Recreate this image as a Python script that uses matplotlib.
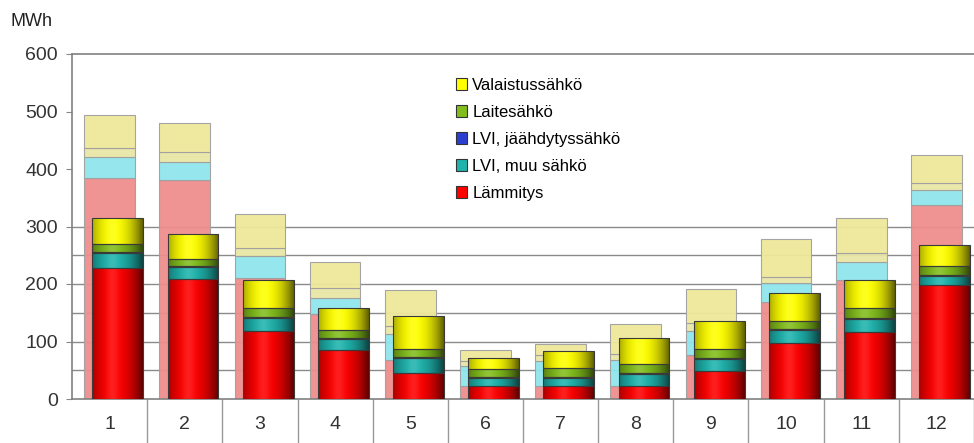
import numpy as np
import matplotlib.pyplot as plt
from matplotlib.patches import Patch
from matplotlib.colors import to_rgb

plt.rcParams['font.family'] = ['Liberation Sans', 'DejaVu Sans']

months = [str(m) for m in range(1, 13)]

# etummaiset (kylläiset) pylväät
lammitys = [228, 209, 118, 86, 46, 23, 23, 22, 48, 97, 116, 198]
lvi_muu = [26, 20, 23, 18, 25, 13, 14, 21, 21, 23, 23, 16]
lvi_jaahd = [2, 2, 2, 2, 2, 2, 2, 2, 2, 2, 2, 2]
laite = [14, 13, 15, 14, 14, 14, 15, 16, 16, 14, 17, 16]
valaistus = [44, 43, 49, 38, 57, 19, 29, 45, 48, 48, 49, 35]

# taaemmat (haaleat) pylväät
lammitys_b = [384, 381, 211, 147, 68, 22, 22, 22, 77, 169, 207, 338]
lvi_muu_b = [37, 32, 37, 29, 45, 36, 44, 45, 41, 33, 31, 26]
laite_b = [15, 16, 15, 17, 14, 8, 10, 12, 14, 11, 16, 12]
valaistus_b = [58, 51, 59, 45, 63, 20, 20, 51, 59, 65, 61, 49]

labels = ['Lämmitys', 'LVI, muu sähkö', 'LVI, jäähdytyssähkö', 'Laitesähkö', 'Valaistussähkö']
front_colors = ['#ff0000', '#1fb3ad', '#2a3fd0', '#82bd1c', '#ffff00']
back_colors = ['#ef8d8d', '#8fe6ec', '#e9e6a6', '#efe89a']

W, H = 974, 443
fig = plt.figure(figsize=(W / 100, H / 100), dpi=100)
ax = fig.add_axes([72 / W, 44 / H, (W - 72) / W, 345 / H])

x = np.arange(1, 13)
bw = 0.675
shift = 0.11

# taaemmat pylväät
bottom = np.zeros(12)
for vals, col in zip([lammitys_b, lvi_muu_b, laite_b, valaistus_b], back_colors):
    ax.bar(x, vals, bw, bottom=bottom, color=col, edgecolor='#a0a0a0', linewidth=0.8,
           alpha=0.95, zorder=2)
    bottom += np.array(vals)

# etummaiset pylväät lieriövarjostuksella
t = np.linspace(0, 1, 64)
shade = np.clip(0.42 + 0.58 * (1 - ((t - 0.42) / 0.56) ** 2), 0.38, 1)
gloss = 0.12 * np.exp(-((t - 0.4) / 0.12) ** 2)

bottom = np.zeros(12)
for vals, col in zip([lammitys, lvi_muu, lvi_jaahd, laite, valaistus], front_colors):
    bars = ax.bar(x + shift, vals, bw, bottom=bottom, color=col, linewidth=0, zorder=3)
    rgb = np.array(to_rgb(col))
    img = rgb[None, :] * shade[:, None]
    img = img + (1 - img) * gloss[:, None]
    img = img[None, :, :]
    for p in bars.patches:
        px, py, pw, ph = p.get_x(), p.get_y(), p.get_width(), p.get_height()
        im = ax.imshow(img, extent=[px, px + pw, py, py + ph], aspect='auto',
                       interpolation='bilinear', zorder=3.2)
        im.set_clip_path(p)
    ax.bar(x + shift, vals, bw, bottom=bottom, fill=False, edgecolor='#3a3a3a',
           linewidth=0.8, zorder=3.4)
    bottom += np.array(vals)

# apuviivat
for g in [50, 100, 150, 200, 250, 300]:
    ax.axhline(g, color='#8a8a8a', linewidth=1.0, zorder=1)

ax.set_xlim(0.5, 0.5 + (W - 72) / 75.5)
ax.set_ylim(0, 600)

ax.set_yticks(range(0, 601, 100))
ax.tick_params(axis='y', length=4, color='#888888', pad=6, labelsize=14, labelcolor='#333333')
ax.set_xticks(x)
ax.set_xticklabels(months)
ax.tick_params(axis='x', which='major', length=0, pad=12, labelsize=14, labelcolor='#333333')
ax.set_xticks(np.arange(1.5, 13, 1), minor=True)
ax.tick_params(axis='x', which='minor', length=32, color='#999999', width=1)

for s in ['left', 'bottom', 'top']:
    ax.spines[s].set_color('#808080')
    ax.spines[s].set_linewidth(1.2)
ax.spines['right'].set_visible(False)

handles = [Patch(facecolor=c, edgecolor='#333333', linewidth=0.8) for c in front_colors]
ax.legend(handles[::-1], labels[::-1], loc='upper left', bbox_to_anchor=(0.418, 0.95),
          frameon=False, fontsize=12, handlelength=0.7, handleheight=0.7,
          handletextpad=0.3, labelspacing=0.72, borderaxespad=0)

fig.text(10 / W, 1 - 21 / H, 'MWh', fontsize=13, va='center', ha='left', color='#222222')

fig.savefig('out.png', dpi=100)
